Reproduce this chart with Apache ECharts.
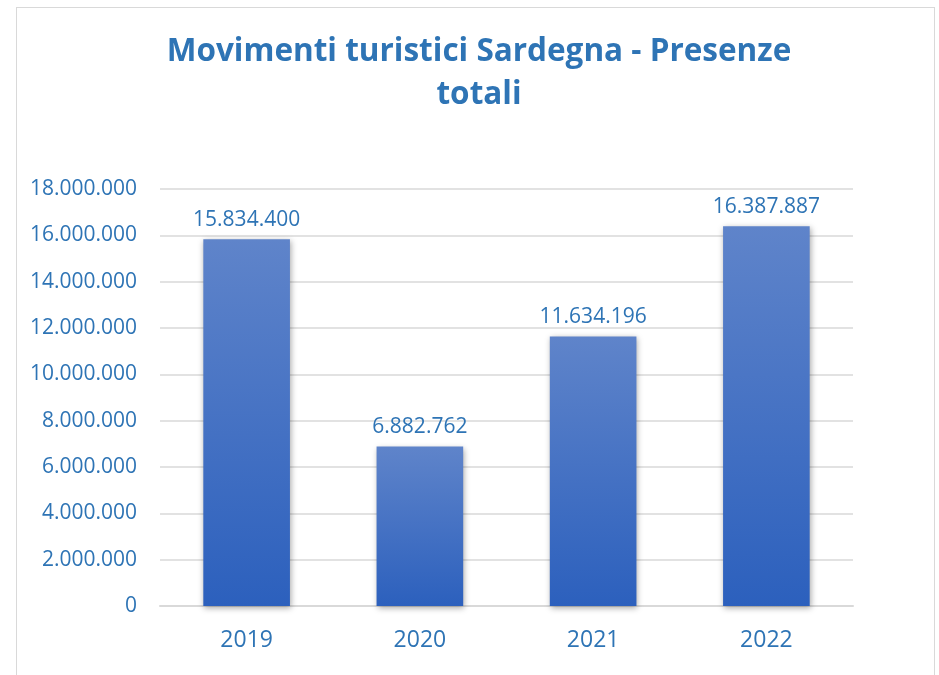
<!DOCTYPE html>
<html><head><meta charset="utf-8">
<script src="https://cdn.jsdelivr.net/npm/echarts@6/dist/echarts.min.js"></script>
<style>
html,body{margin:0;padding:0;background:#fff;}
#frame{position:absolute;left:16px;top:7px;width:919px;height:680px;border:1px solid #d9d9d9;box-sizing:border-box;}
#c{position:absolute;left:0;top:0;width:939px;height:675px;}
</style></head>
<body>
<div id="frame"></div>
<div id="c"></div>
<script>
const categories = ['2019', '2020', '2021', '2022'];
const presenze = [15834400, 6882762, 11634196, 16387887];
const titleText = 'Movimenti turistici Sardegna - Presenze\ntotali';

function fmt(v){ return String(Math.round(v)).replace(/\B(?=(\d{3})+(?!\d))/g, '.'); }

const chart = echarts.init(document.getElementById('c'), null, {renderer:'canvas'});
const blue = '#2e74b5';
chart.setOption({
  animation:false,
  title:{
    text:titleText, left:474, top:26, textAlign:'center',
    textStyle:{fontFamily:'Open Sans', fontWeight:'bold', fontSize:31.5, color:blue, lineHeight:43}
  },
  grid:{left:160, right:86, top:189, bottom:69, containLabel:false},
  xAxis:{
    type:'category', data:categories,
    axisLine:{lineStyle:{color:'#d9d9d9', width:2}},
    axisTick:{show:false},
    axisLabel:{fontFamily:'Open Sans', fontSize:23, color:blue, margin:23}
  },
  yAxis:{
    type:'value', min:0, max:18000000, interval:2000000,
    axisLine:{show:false}, axisTick:{show:false},
    splitLine:{lineStyle:{color:'#d9d9d9', width:1.5}},
    axisLabel:{fontFamily:'Open Sans', fontSize:21, color:blue, margin:23, formatter:fmt}
  },
  series:[{
    type:'bar', data:presenze, barWidth:'50%',
    itemStyle:{
      color:new echarts.graphic.LinearGradient(0,0,0,1,[
        {offset:0,color:'#5f84ca'},{offset:1,color:'#2c60bd'}
      ]),
      shadowColor:'rgba(0,0,0,0.35)', shadowBlur:6, shadowOffsetX:1, shadowOffsetY:2
    },
    label:{show:true, position:'top', distance:9, fontFamily:'Open Sans', fontSize:21, color:blue, formatter:p=>fmt(p.value)}
  }]
});
</script>
</body></html>
